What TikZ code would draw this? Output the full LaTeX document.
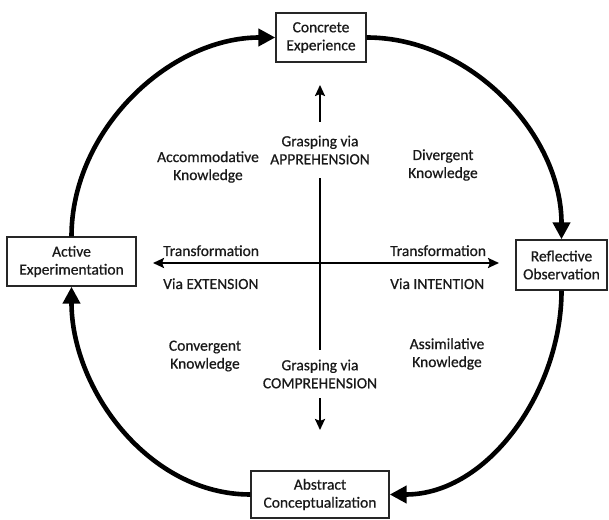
\documentclass[tikz,border=0pt]{standalone}
\usepackage{fontspec}
\setmainfont{Carlito}[FakeBold=0.6]
\usetikzlibrary{arrows.meta}
\tikzset{
  axtip/.tip={Stealth[length=11pt,width=10pt,inset=2pt]},
  cyctip/.tip={Triangle[length=17pt,width=17pt]}
}
\begin{document}
\begin{tikzpicture}[x=1pt,y=1pt,
  txt/.style={font=\fontsize{15.5}{18}\selectfont, text=black!90, inner sep=0pt},
  stagebox/.style={txt, draw=black!85, line width=1.4pt, fill=white, align=center, inner sep=0pt},
  lbl/.style={txt, align=center},
  cycle/.style={line width=4.6pt, -cyctip},
  axis/.style={line width=2.2pt}]
\useasboundingbox (0,0) rectangle (609,519);

% the four stages of the cycle
\node[stagebox, minimum width=90pt, minimum height=49pt] (con) at (321,481.5) {Concrete\\Experience};
\node[stagebox, minimum width=91pt, minimum height=50pt] (ref) at (561.5,254) {Reflective\\Observation};
\node[stagebox, minimum width=129pt, minimum height=49pt] (act) at (71.5,257.5) {Active\\Experimentation};
\node[stagebox, minimum width=138pt, minimum height=47pt] (abs) at (320,24.5) {Abstract\\Conceptualization};

% the cycle, clockwise
\draw[cycle] (act.north) to[out=90,in=180,looseness=0.95] (con.west);
\draw[cycle] (con.east) to[out=0,in=90,looseness=0.95] (ref.north);
\draw[cycle] (ref.south) to[out=-90,in=0,looseness=0.95] (abs.east);
\draw[cycle] (abs.west) to[out=180,in=-90,looseness=0.95] (act.south);

% grasping axis
\node[lbl, minimum height=56pt] (appr) at (320,369) {Grasping via\\APPREHENSION};
\node[lbl, minimum height=48pt] (comp) at (320,145) {Grasping via\\COMPREHENSION};
\coordinate (gtop) at (320,434);
\coordinate (gbot) at (320,89);
\draw[axis, -axtip] (appr.north) -- (gtop);
\draw[axis] (appr.south) -- (comp.north);
\draw[axis, -axtip] (comp.south) -- (gbot);

% transformation axis
\coordinate (tleft) at (153,256);
\coordinate (tright) at (499,256);
\draw[axis, axtip-axtip] (tleft) -- (tright);
\node[lbl, anchor=base west] (tl1) at (163,263) {Transformation};
\node[lbl, anchor=base west] (tl2) at (163,230) {Via EXTENSION};
\node[lbl, anchor=base west] (tr1) at (390,263) {Transformation};
\node[lbl, anchor=base west] (tr2) at (390,230) {Via INTENTION};

% knowledge forms in the quadrants
\node[lbl] (acc) at (208,352) {Accommodative\\Knowledge};
\node[lbl] (div) at (443,354) {Divergent\\Knowledge};
\node[lbl] (cnv) at (205,163) {Convergent\\Knowledge};
\node[lbl] (asm) at (447,165) {Assimilative\\Knowledge};
\end{tikzpicture}
\end{document}
